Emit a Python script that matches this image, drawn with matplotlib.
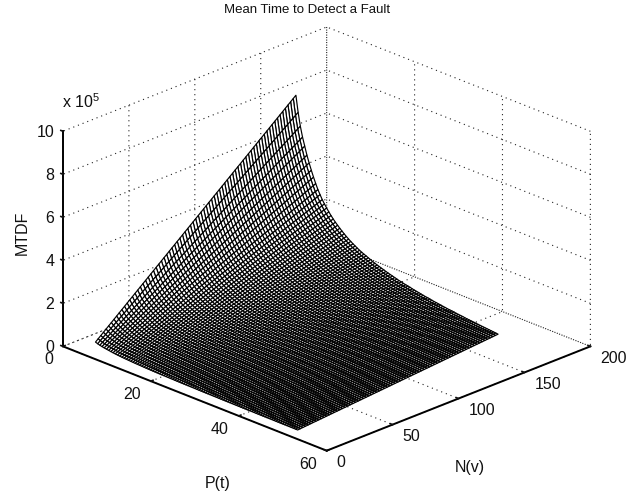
import numpy as np
import matplotlib
matplotlib.use("Agg")
import matplotlib.pyplot as plt

plt.rcParams['font.family'] = ['Liberation Sans', 'DejaVu Sans']
plt.rcParams['mathtext.default'] = 'regular'

title_text = "Mean Time to Detect a Fault"
p_values = np.arange(5, 51.5, 0.5)
# MTDF along the far edge of the surface (N = 160), read from the silhouette, in units of 1e5
mtdf_far_edge = [
    8.20, 7.45, 6.85, 6.38, 6.00, 5.62, 5.30, 5.00, 4.72, 4.46,
    4.22, 4.02, 3.83, 3.67, 3.52, 3.38, 3.25, 3.13, 3.02, 2.92,
    2.82, 2.73, 2.64, 2.56, 2.48, 2.41, 2.34, 2.28, 2.22, 2.16,
    2.11, 2.06, 2.02, 1.97, 1.93, 1.88, 1.84, 1.80, 1.77, 1.73,
    1.70, 1.66, 1.63, 1.60, 1.57, 1.54, 1.51, 1.48, 1.46, 1.43,
    1.41, 1.39, 1.37, 1.34, 1.32, 1.30, 1.28, 1.26, 1.24, 1.22,
    1.21, 1.19, 1.17, 1.15, 1.14, 1.12, 1.11, 1.09, 1.08, 1.06,
    1.05, 1.04, 1.03, 1.01, 1.00, 0.99, 0.98, 0.96, 0.95, 0.94,
    0.93, 0.92, 0.91, 0.90, 0.89, 0.88, 0.87, 0.86, 0.85, 0.84,
    0.83, 0.82, 0.81,
]
n_values = list(range(8, 161, 2))
p_ticks = [0, 20, 40, 60]
n_ticks = [0, 50, 100, 150, 200]
z_ticks = [0, 2e5, 4e5, 6e5, 8e5, 10e5]
z_tick_labels = ["0", "2", "4", "6", "8", "10"]

P = np.array(p_values, dtype=float)
N = np.array(n_values, dtype=float)
Z = np.outer(np.array(mtdf_far_edge) * 1e5, N / N[-1])
NN, PP = np.meshgrid(N, P)

fig = plt.figure(figsize=(6.44, 4.94), dpi=100)
ax = fig.add_axes([-2 / 644, 1.5 / 494, 1, 1], projection='3d', proj_type='ortho')
ax.patch.set_alpha(0)
ax.view_init(elev=23.3, azim=-45)
ax.set_box_aspect((1, 1, 0.628), zoom=1.134)
ax.set_xlim(0, 60, view_margin=0)
ax.set_ylim(0, 200, view_margin=0)
ax.set_zlim(0, 10e5, view_margin=0)

surf = ax.plot_surface(PP, NN, Z, rstride=1, cstride=1, color='white', shade=False,
                       edgecolor='black', linewidth=0.85, antialiased=True)
surf.set_clip_on(False)

ax.set_xticks(p_ticks)
ax.set_yticks(n_ticks)
ax.set_zticks(z_ticks)
ax.set_xticklabels([str(t) for t in p_ticks], ha='right', va='center_baseline')
ax.set_yticklabels([str(t) for t in n_ticks], ha='left', va='center')
ax.set_zticklabels(z_tick_labels, ha='right', va='center_baseline')
ax.tick_params(labelsize=11.5, colors='#111111')
ax.tick_params(axis='x', pad=-1)
ax.tick_params(axis='y', pad=-1)
ax.tick_params(axis='z', pad=-5)

for axis in (ax.xaxis, ax.yaxis, ax.zaxis):
    axis.set_pane_color((1, 1, 1, 0))
    axis.pane.set_edgecolor((1, 1, 1, 0))
    axis.line.set_color('black')
    axis.line.set_linewidth(1.4)
    axis._axinfo['grid'].update(color='#222222', linewidth=0.8, linestyle=(0, (1, 3.5)))
    axis._axinfo['tick'].update(inward_factor=0.0, outward_factor=0.1, linewidth={True: 1.2, False: 0.5})
ax.zaxis._axinfo['juggled'] = (1, 2, 0)

fig.text(307 / 644, 1 - 10 / 494, title_text, ha='center', va='center', fontsize=9.5, color='#111111')
fig.text(218 / 644, 1 - 483 / 494, "P(t)", ha='center', va='center', fontsize=11.5, color='#111111')
fig.text(470 / 644, 1 - 467 / 494, "N(v)", ha='center', va='center', fontsize=11.5, color='#111111')
fig.text(22 / 644, 1 - 233 / 494, "MTDF", ha='center', va='center', rotation=90, fontsize=11.5, color='#111111')
fig.text(62 / 644, 1 - 102 / 494, r"x $10^{5}$", ha='left', va='center', fontsize=11.5, color='#111111')

fig.savefig("out.png", dpi=100)
